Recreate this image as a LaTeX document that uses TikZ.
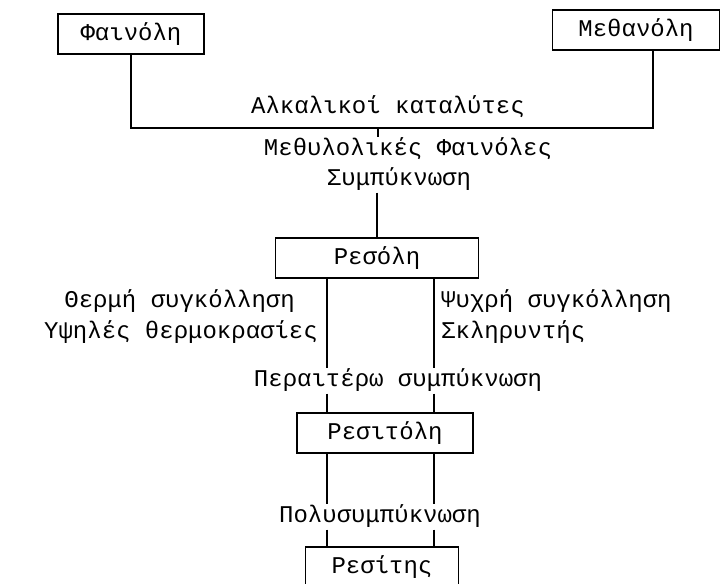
\documentclass[tikz,border=0pt]{standalone}
\usepackage{fontspec}
\setmainfont{Liberation Mono}
\usepackage{tikz}
\usetikzlibrary{calc, positioning}

\begin{document}
\begin{tikzpicture}[
		x=1pt, y=-1pt,
		boite/.style={draw, line width=1.6pt, minimum height=40pt, inner sep=0pt, font=\fontsize{24}{28}\selectfont},
		etiq/.style={inner sep=1pt, text height=17pt, text depth=6pt, font=\fontsize{24}{28}\selectfont},
		trait/.style={line width=1.6pt}
		]
		\useasboundingbox (0,0) rectangle (722,583);
		
		% Les produits
		\node[boite, minimum width=146pt] (phen) at (131, 34) {Φαινόλη};
		\node[boite, minimum width=167pt] (meth) at (636, 30) {Μεθανόλη};
		\node[boite, minimum width=203pt] (resol) at (377, 258) {Ρεσόλη};
		\node[boite, minimum width=176pt] (resitol) at (385, 433) {Ρεσιτόλη};
		\node[boite, minimum width=153pt] (resit) at (382, 567) {Ρεσίτης};
		
		% Les conditions
		\node[etiq] (kat) at (388, 108) {Αλκαλικοί καταλύτες};
		\node[etiq] (methyl) at (408, 150) {Μεθυλολικές Φαινόλες};
		\node[etiq] (sump) at (399, 180) {Συμπύκνωση};
		\node[etiq, anchor=east] (therm) at (296, 302) {Θερμή συγκόλληση};
		\node[etiq, anchor=east] (ypsil) at (319, 333) {Υψηλές θερμοκρασίες};
		\node[etiq, anchor=west] (psyx) at (440, 302) {Ψυχρή συγκόλληση};
		\node[etiq, anchor=west] (sklir) at (440, 333) {Σκληρυντής};
		\node[etiq] (perait) at (398, 381) {Περαιτέρω συμπύκνωση};
		\node[etiq] (poly) at (380, 517) {Πολυσυμπύκνωση};
		
		% Les points de jonction
		\coordinate (jd) at (653, 128);
		\coordinate (jm) at (378, 128);
		\coordinate (cg) at (327, 0);
		\coordinate (cd) at (434, 0);
		
		% Les traits
		\draw[trait] (phen.south) |- (jd) -- (jd |- meth.south);
		\draw[trait] (jm) -- (jm |- methyl.north);
		\draw[trait] (resol.north |- sump.south) -- (resol.north);
		\foreach \a/\b in {resol/perait, perait/resitol, resitol/poly, poly/resit} {
			\draw[trait] (\a.south -| cg) -- (\b.north -| cg);
			\draw[trait] (\a.south -| cd) -- (\b.north -| cd);
		}
	\end{tikzpicture}
\end{document}
